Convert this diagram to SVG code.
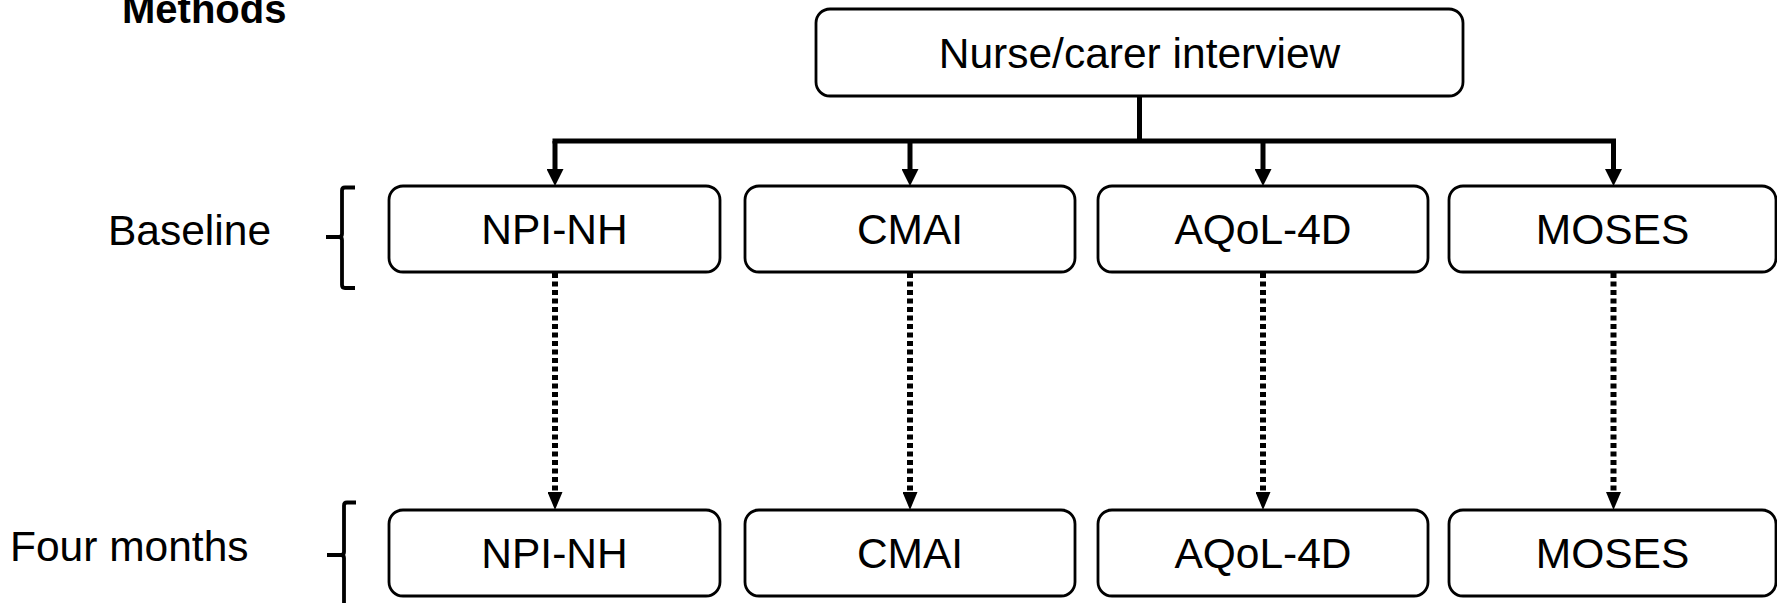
<svg xmlns="http://www.w3.org/2000/svg" width="1777" height="603" viewBox="0 0 1777 603">
  <style>
    .box { fill: #ffffff; stroke: #000000; stroke-width: 2.8; }
    .lbl { font-family: "Liberation Sans", Arial, sans-serif; font-size: 42.5px; fill: #000000; }
    .mid { text-anchor: middle; }
    .solid { stroke: #000000; stroke-width: 5; fill: none; }
    .dot { stroke: #000000; stroke-width: 6; fill: none; stroke-dasharray: 5 3.5; }
    .brace { stroke: #000000; stroke-width: 3.8; fill: none; }
  </style>
  <defs>
    <marker id="headSolid" markerUnits="userSpaceOnUse" viewBox="0 0 17 17" markerWidth="17" markerHeight="17" refX="7" refY="8.5" orient="auto">
      <path d="M0,0 L17,8.5 L0,17 z" fill="#000000"/>
    </marker>
    <marker id="headDot" markerUnits="userSpaceOnUse" viewBox="0 0 18 15" markerWidth="18" markerHeight="15" refX="7" refY="7.5" orient="auto">
      <path d="M0,0 L18,7.5 L0,15 z" fill="#000000"/>
    </marker>
  </defs>
  <rect width="1777" height="603" fill="#ffffff"/>

  <text id="title" class="lbl" x="122" y="23" font-weight="bold" style="font-size:40px">Methods</text>

  <g id="connectors">
    <line class="solid" x1="1139.5" y1="96" x2="1139.5" y2="141"/>
    <line class="solid" x1="552.5" y1="141" x2="1616" y2="141"/>
    <line class="solid" x1="555" y1="141" x2="555" y2="176" marker-end="url(#headSolid)"/>
    <line class="solid" x1="910" y1="141" x2="910" y2="176" marker-end="url(#headSolid)"/>
    <line class="solid" x1="1263" y1="141" x2="1263" y2="176" marker-end="url(#headSolid)"/>
    <line class="solid" x1="1613.5" y1="141" x2="1613.5" y2="176" marker-end="url(#headSolid)"/>
    <line class="dot" x1="555" y1="273" x2="555" y2="499" marker-end="url(#headDot)"/>
    <line class="dot" x1="910" y1="273" x2="910" y2="499" marker-end="url(#headDot)"/>
    <line class="dot" x1="1263" y1="273" x2="1263" y2="499" marker-end="url(#headDot)"/>
    <line class="dot" x1="1613.5" y1="273" x2="1613.5" y2="499" marker-end="url(#headDot)"/>
  </g>

  <g id="interview">
    <rect class="box" x="816" y="9" width="647" height="87" rx="14"/>
    <text class="lbl mid" x="1139.5" y="68">Nurse/carer interview</text>
  </g>

  <g id="baseline-label">
    <text class="lbl" x="108" y="245">Baseline</text>
    <path class="brace" d="M355,187.5 L345,187.5 Q342,187.5 342,190.5 L342,234 Q342,237 339,237 L326,237 M339,237 Q342,237 342,240 L342,285 Q342,288 345,288 L355,288"/>
  </g>
  <g id="fourmonths-label">
    <text class="lbl" x="10" y="561">Four months</text>
    <path class="brace" d="M356,502.5 L347,502.5 Q344,502.5 344,505.5 L344,552 Q344,555 341,555 L327,555 M341,555 Q344,555 344,558 L344,606"/>
  </g>

  <g id="b-npi">
    <rect class="box" x="389" y="186" width="331" height="86" rx="14"/>
    <text class="lbl mid" x="554.5" y="244">NPI-NH</text>
  </g>
  <g id="b-cmai">
    <rect class="box" x="745" y="186" width="330" height="86" rx="14"/>
    <text class="lbl mid" x="910" y="244">CMAI</text>
  </g>
  <g id="b-aqol">
    <rect class="box" x="1098" y="186" width="330" height="86" rx="14"/>
    <text class="lbl mid" x="1263" y="244">AQoL-4D</text>
  </g>
  <g id="b-moses">
    <rect class="box" x="1449" y="186" width="327" height="86" rx="14"/>
    <text class="lbl mid" x="1612.5" y="244">MOSES</text>
  </g>

  <g id="f-npi">
    <rect class="box" x="389" y="510" width="331" height="86" rx="14"/>
    <text class="lbl mid" x="554.5" y="568">NPI-NH</text>
  </g>
  <g id="f-cmai">
    <rect class="box" x="745" y="510" width="330" height="86" rx="14"/>
    <text class="lbl mid" x="910" y="568">CMAI</text>
  </g>
  <g id="f-aqol">
    <rect class="box" x="1098" y="510" width="330" height="86" rx="14"/>
    <text class="lbl mid" x="1263" y="568">AQoL-4D</text>
  </g>
  <g id="f-moses">
    <rect class="box" x="1449" y="510" width="327" height="86" rx="14"/>
    <text class="lbl mid" x="1612.5" y="568">MOSES</text>
  </g>
</svg>
